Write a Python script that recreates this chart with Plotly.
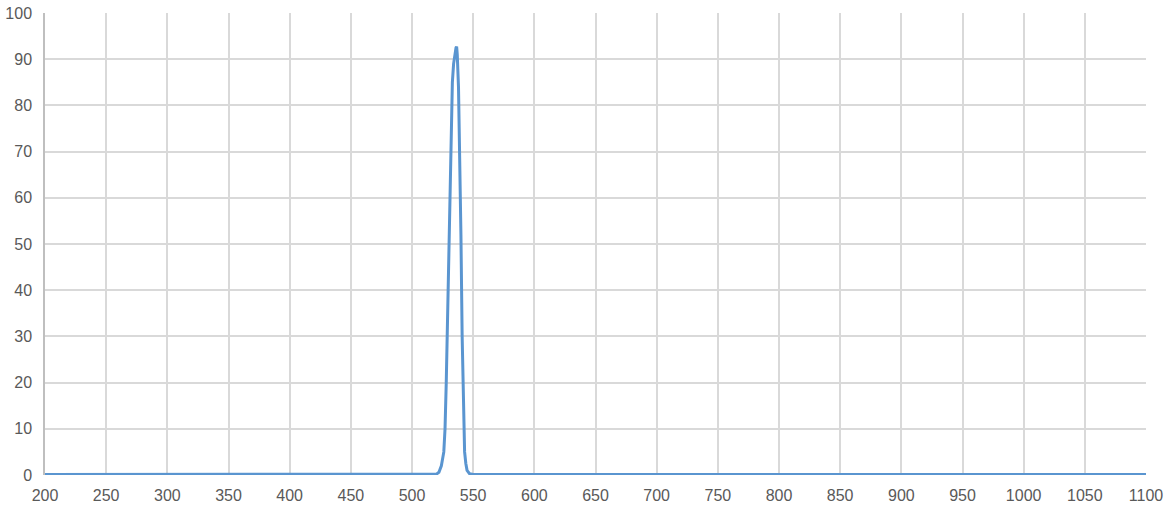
import plotly.graph_objects as go

# wavelength (nm) and transmission (%)
wavelength = [200, 300, 400, 500, 515, 520, 522, 524, 526, 527, 528, 529, 530, 531,
              532, 533, 534, 535, 536, 536.5, 537, 538, 539, 540, 541, 542, 543,
              544, 545, 547, 550, 600, 700, 800, 900, 1000, 1100]
transmission = [0.1, 0.1, 0.1, 0.1, 0.1, 0.2, 0.6, 2, 5, 10, 20, 33, 45, 60,
                75, 85, 89, 91, 92.5, 92.7, 91, 84, 70, 52, 30, 12, 5,
                2.5, 1, 0.3, 0.1, 0.1, 0.1, 0.1, 0.1, 0.1, 0.1]

x_ticks = list(range(200, 1101, 50))
y_ticks = list(range(0, 101, 10))

fig = go.Figure(go.Scatter(
    x=wavelength,
    y=transmission,
    mode='lines',
    line=dict(color='#5A95D0', width=3),
    showlegend=False,
))

fig.update_layout(
    width=1169,
    height=509,
    margin=dict(l=45, r=23, t=13, b=34),
    paper_bgcolor='white',
    plot_bgcolor='white',
    font=dict(family='Liberation Sans', size=16, color='#595959'),
)
fig.update_xaxes(
    range=[200, 1100],
    tickvals=x_ticks,
    showgrid=True,
    gridcolor='#D9D9D9',
    gridwidth=1.5,
    zeroline=False,
    showline=False,
    ticks='',
    ticklabelstandoff=9,
    ticklabeloverflow='allow',
    automargin=False,
)
fig.update_yaxes(
    range=[0, 100],
    tickvals=y_ticks,
    showgrid=True,
    gridcolor='#D9D9D9',
    gridwidth=1.5,
    zeroline=False,
    showline=True,
    linecolor='#BFBFBF',
    linewidth=1.5,
    ticks='',
    ticklabelstandoff=8,
    ticklabeloverflow='allow',
    automargin=False,
)

# drop the default 8px body margin so the figure fills the window exactly
fig.write_html("out.html",
               config={'displayModeBar': False},
               post_script="document.body.style.margin='0';document.body.style.overflow='hidden';")
